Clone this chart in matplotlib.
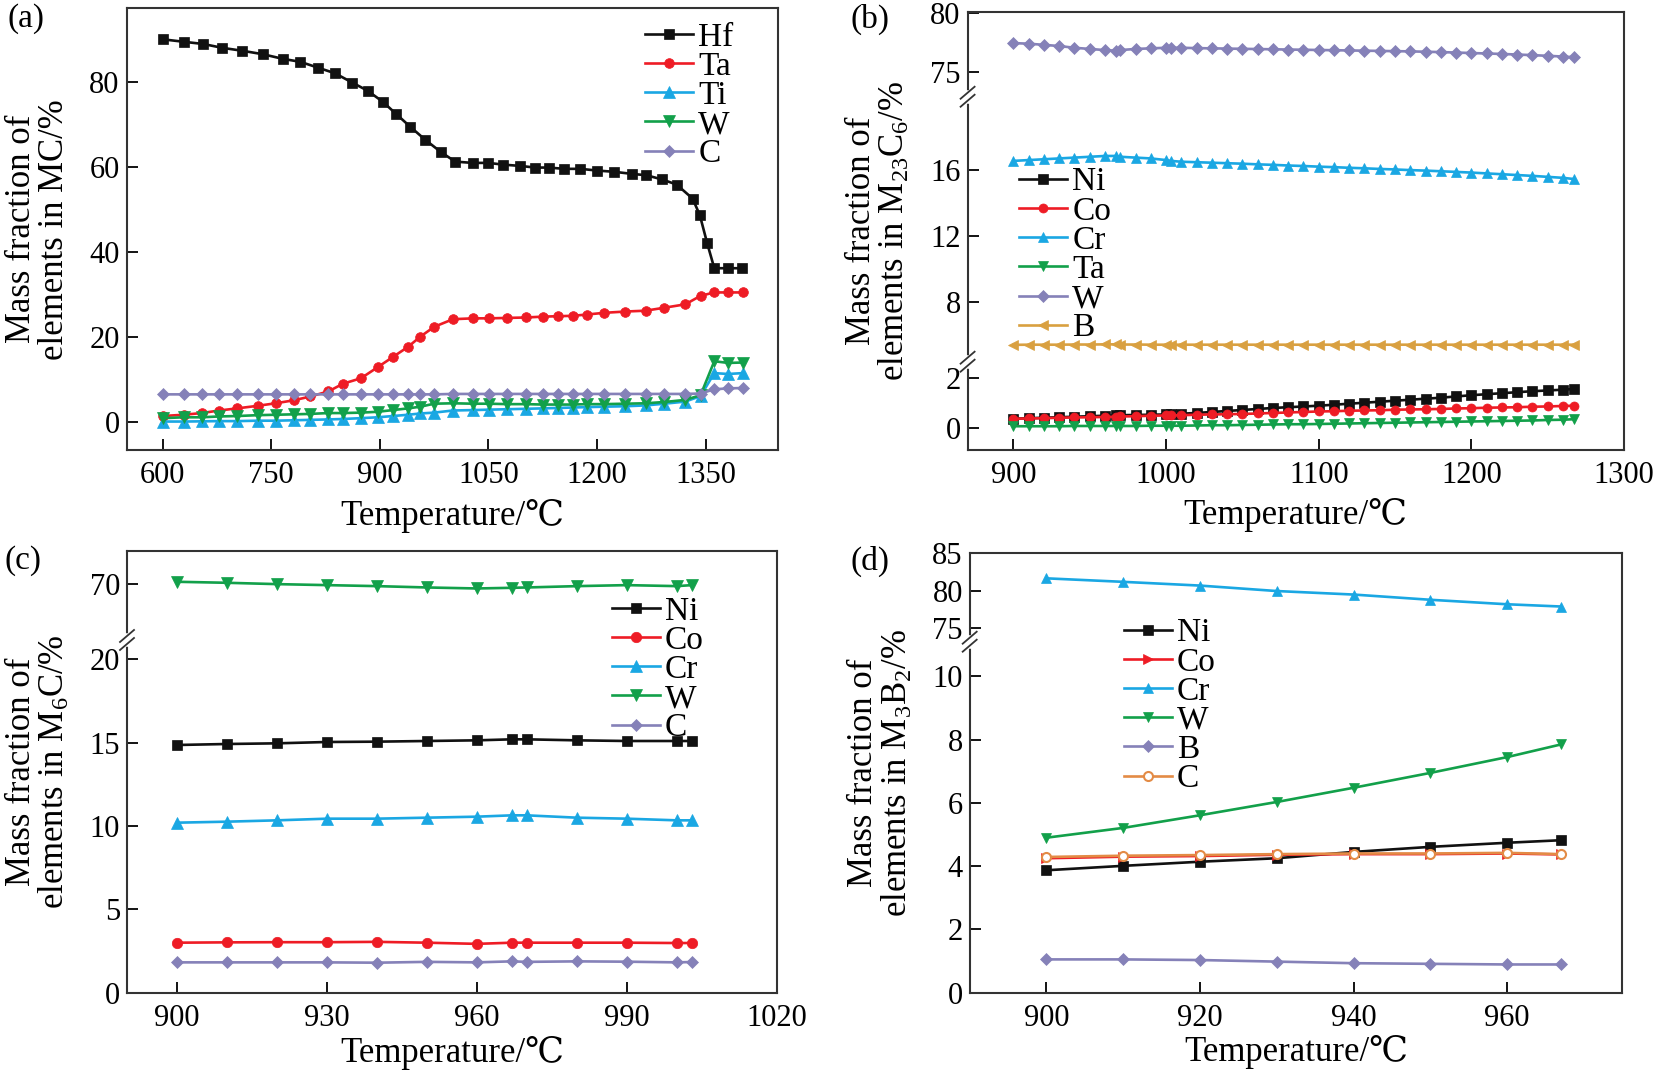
import numpy as np
import matplotlib
matplotlib.use('Agg')
import matplotlib.pyplot as plt

plt.rcParams['font.family'] = ['Liberation Serif', 'DejaVu Serif', 'DejaVu Sans']
plt.rcParams['mathtext.default'] = 'regular'

# ---- (a) MC ----
hf_temp = [600, 630, 656, 682, 710, 738, 766, 790, 815, 838, 862, 883, 904, 922, 942, 963, 984, 1004,
           1028, 1050, 1070, 1093, 1115, 1133, 1155, 1177, 1200, 1224, 1249, 1268, 1290, 1310, 1332,
           1342, 1352, 1362, 1381, 1400]
hf_a = [90.0, 89.4, 88.9, 88.0, 87.3, 86.5, 85.4, 84.7, 83.3, 82.0, 79.8, 77.9, 75.3, 72.5, 69.4, 66.3,
        63.5, 61.2, 60.9, 60.9, 60.5, 60.2, 59.8, 59.8, 59.5, 59.5, 59.1, 58.8, 58.3, 58.0, 57.0, 55.8,
        52.5, 48.6, 42.1, 36.1, 36.1, 36.1]
temp_a = [600, 629, 654, 678, 703, 731, 756, 781, 804, 829, 849, 874, 897, 918, 939, 956, 975, 1001,
          1029, 1051, 1076, 1102, 1125, 1146, 1167, 1186, 1210, 1239, 1267, 1293, 1322, 1343, 1362, 1381, 1401]
ta_a = [1.3, 1.6, 2.0, 2.6, 3.1, 3.7, 4.3, 5.0, 5.9, 7.1, 8.9, 10.2, 12.8, 15.2, 17.6, 20.0, 22.3, 24.1,
        24.3, 24.3, 24.4, 24.5, 24.7, 24.8, 24.9, 25.2, 25.6, 25.9, 26.1, 26.8, 27.6, 29.6, 30.4, 30.4, 30.4]
ti_a = [0.0, 0.0, 0.05, 0.1, 0.1, 0.2, 0.2, 0.3, 0.4, 0.5, 0.6, 0.8, 1.0, 1.3, 1.6, 1.9, 2.1, 2.6,
        2.7, 2.8, 2.9, 3.0, 3.1, 3.2, 3.3, 3.4, 3.5, 3.6, 3.8, 4.2, 4.7, 6.0, 11.4, 11.2, 11.4]
w_a = [0.8, 1.0, 1.0, 1.2, 1.3, 1.5, 1.6, 1.7, 1.8, 2.0, 2.0, 2.1, 2.3, 2.7, 3.1, 3.5, 4.2, 4.3,
       4.2, 4.2, 4.1, 4.1, 4.0, 4.0, 4.0, 4.1, 4.1, 4.2, 4.3, 4.6, 5.1, 6.2, 14.2, 13.8, 13.9]
c_a = [6.4, 6.4, 6.4, 6.4, 6.4, 6.4, 6.4, 6.4, 6.4, 6.4, 6.4, 6.4, 6.4, 6.4, 6.4, 6.4, 6.4, 6.5,
       6.5, 6.5, 6.5, 6.5, 6.5, 6.5, 6.5, 6.5, 6.5, 6.5, 6.5, 6.5, 6.5, 6.6, 7.6, 7.8, 7.9]

# ---- (b) M23C6 ----
temp_b = [900, 910, 920, 930, 940, 950, 960, 967, 970, 980, 990, 1000, 1003, 1010, 1020, 1030, 1040,
          1050, 1060, 1070, 1080, 1090, 1100, 1110, 1120, 1130, 1140, 1150, 1160, 1170, 1180, 1190,
          1200, 1210, 1220, 1230, 1240, 1250, 1260, 1267]
ni_b = [0.38, 0.40, 0.42, 0.44, 0.46, 0.48, 0.50, 0.51, 0.52, 0.53, 0.54, 0.55, 0.56, 0.58, 0.61, 0.65,
        0.69, 0.73, 0.77, 0.81, 0.84, 0.87, 0.90, 0.94, 0.98, 1.02, 1.06, 1.10, 1.14, 1.18, 1.22, 1.27,
        1.32, 1.36, 1.40, 1.44, 1.48, 1.51, 1.54, 1.57]
co_b = [0.38, 0.39, 0.40, 0.42, 0.43, 0.44, 0.45, 0.46, 0.47, 0.48, 0.50, 0.51, 0.51, 0.52, 0.54, 0.55,
        0.56, 0.57, 0.59, 0.61, 0.63, 0.65, 0.67, 0.68, 0.70, 0.71, 0.72, 0.74, 0.75, 0.76, 0.77, 0.79,
        0.80, 0.82, 0.83, 0.84, 0.86, 0.87, 0.89, 0.90]
cr_b = [16.55, 16.6, 16.65, 16.7, 16.75, 16.8, 16.85, 16.85, 16.8, 16.75, 16.7, 16.6, 16.55, 16.5,
        16.47, 16.44, 16.41, 16.38, 16.34, 16.31, 16.27, 16.24, 16.20, 16.17, 16.13, 16.10, 16.06, 16.03,
        15.99, 15.96, 15.92, 15.88, 15.84, 15.79, 15.74, 15.69, 15.64, 15.58, 15.52, 15.45]
ta_b = [0.08, 0.08, 0.08, 0.08, 0.09, 0.09, 0.09, 0.09, 0.09, 0.09, 0.10, 0.10, 0.10, 0.10, 0.11, 0.12,
        0.12, 0.13, 0.14, 0.15, 0.16, 0.16, 0.17, 0.18, 0.19, 0.20, 0.21, 0.22, 0.23, 0.24, 0.25, 0.26,
        0.27, 0.28, 0.29, 0.30, 0.31, 0.33, 0.34, 0.36]
w_b = [77.45, 77.4, 77.3, 77.2, 77.05, 76.95, 76.85, 76.8, 76.85, 76.95, 77.0, 77.05, 77.05, 77.05,
       77.02, 77.0, 76.98, 76.96, 76.94, 76.92, 76.9, 76.88, 76.86, 76.84, 76.82, 76.8, 76.78, 76.76,
       76.74, 76.71, 76.68, 76.64, 76.6, 76.56, 76.52, 76.47, 76.42, 76.36, 76.3, 76.24]
b_b = [5.37, 5.38, 5.38, 5.38, 5.39, 5.39, 5.40, 5.40, 5.39, 5.39, 5.38, 5.38, 5.38, 5.38, 5.38, 5.38,
       5.38, 5.38, 5.38, 5.38, 5.38, 5.38, 5.38, 5.38, 5.38, 5.38, 5.38, 5.38, 5.38, 5.38, 5.38, 5.38,
       5.38, 5.38, 5.38, 5.38, 5.38, 5.38, 5.38, 5.38]

# ---- (c) M6C ----
temp_c = [900, 910, 920, 930, 940, 950, 960, 967, 970, 980, 990, 1000, 1003]
ni_c = [14.86, 14.92, 14.96, 15.04, 15.06, 15.1, 15.14, 15.2, 15.2, 15.14, 15.1, 15.1, 15.1]
co_c = [3.0, 3.02, 3.03, 3.03, 3.05, 3.0, 2.93, 3.0, 3.0, 3.0, 3.0, 2.98, 2.98]
cr_c = [10.2, 10.26, 10.34, 10.44, 10.44, 10.5, 10.56, 10.64, 10.64, 10.5, 10.44, 10.34, 10.34]
w_c = [70.14, 70.08, 70.0, 69.94, 69.88, 69.8, 69.74, 69.78, 69.8, 69.88, 69.94, 69.88, 69.94]
c_c = [1.82, 1.82, 1.82, 1.82, 1.8, 1.85, 1.82, 1.88, 1.85, 1.88, 1.86, 1.82, 1.84]

# ---- (d) M3B2 ----
temp_d = [900, 910, 920, 930, 940, 950, 960, 967]
ni_d = [3.87, 4.01, 4.14, 4.25, 4.45, 4.61, 4.74, 4.82]
co_d = [4.25, 4.30, 4.32, 4.36, 4.38, 4.38, 4.40, 4.37]
cr_d = [81.67, 81.2, 80.7, 79.97, 79.5, 78.8, 78.2, 77.9]
w_d = [4.9, 5.21, 5.61, 6.03, 6.48, 6.95, 7.45, 7.85]
b_d = [1.05, 1.05, 1.03, 0.98, 0.93, 0.91, 0.89, 0.89]
c_d = [4.29, 4.33, 4.35, 4.38, 4.4, 4.4, 4.42, 4.38]

BLACK = '#111111'
RED = '#ee1c25'
CYAN = '#1aa7e3'
GREEN = '#12a04a'
PURPLE = '#8581b8'
GOLD = '#d9a040'
ORANGE = '#e38b45'

W_PX, H_PX = 1659, 1073


def _interp(v, xp, fp):
    v = np.asarray(v, dtype=float)
    out = np.interp(v, xp, fp)
    s0 = (fp[1] - fp[0]) / (xp[1] - xp[0])
    s1 = (fp[-1] - fp[-2]) / (xp[-1] - xp[-2])
    out = np.where(v < xp[0], fp[0] + (v - xp[0]) * s0, out)
    out = np.where(v > xp[-1], fp[-1] + (v - xp[-1]) * s1, out)
    return out


def broken_scale(ax, yp, fp):
    # piecewise linear y axis, one box, segments stacked
    yp = np.asarray(yp, float)
    fp = np.asarray(fp, float)
    ax.set_yscale('function', functions=(lambda v: _interp(v, yp, fp),
                                         lambda v: _interp(v, fp, yp)))
    ax.set_ylim(yp[0], yp[-1])


def break_mark(ax, yf):
    pos = ax.get_position()
    wpx, hpx = pos.width * W_PX, pos.height * H_PX
    dx, dy, gap = 7 / wpx, 6 / hpx, 4 / hpx
    ax.plot([0, 0], [yf - gap, yf + gap], color='white', lw=4, transform=ax.transAxes,
            clip_on=False, zorder=6)
    for off in (-gap, gap):
        ax.plot([-dx, dx], [yf + off - dy, yf + off + dy], color='#333333', lw=1.3,
                transform=ax.transAxes, clip_on=False, zorder=7)


def style(ax, xticks, yticks, xlim):
    ax.set_xlim(*xlim)
    ax.set_xticks(xticks)
    ax.set_yticks(yticks)
    ax.set_yticklabels([str(t) for t in yticks])
    ax.tick_params(direction='in', length=8, width=1.3, labelsize=22, top=False, right=False)
    ax.tick_params(axis='x', pad=8)
    ax.tick_params(axis='y', pad=5)
    for s in ax.spines.values():
        s.set_linewidth(1.5)
        s.set_color('#333333')


def line(ax, x, y, color, marker, label, ms=7, mfc=None):
    ax.plot(x, y, color=color, marker=marker, ms=ms, lw=1.9, label=label,
            mfc=mfc if mfc else color, mec=color, mew=1.5 if mfc else 0.5)


def legend(ax, x_px, top_px):
    ax.legend(loc='upper left', bbox_to_anchor=(x_px / W_PX, 1 - top_px / H_PX),
              bbox_transform=fig.transFigure, frameon=False, fontsize=24, handlelength=1.45,
              handletextpad=0.15, labelspacing=-0.04, borderpad=0, borderaxespad=0)


def labels(ax, ylab, xlab_y):
    ax.set_xlabel('Temperature/℃', fontsize=25, va='center')
    ax.xaxis.set_label_coords(0.5, xlab_y)
    ax.set_ylabel(ylab, fontsize=25, va='center', ha='center', linespacing=1.0)
    ax.yaxis.set_label_coords(-0.136, 0.5)


fig = plt.figure(figsize=(16.59, 10.73), dpi=100)

ax_a = fig.add_axes([126.5 / W_PX, 1 - 450 / H_PX, 651.5 / W_PX, 441.7 / H_PX])
ax_b = fig.add_axes([967.6 / W_PX, 1 - 450 / H_PX, 656.4 / W_PX, 438.3 / H_PX])
ax_c = fig.add_axes([127 / W_PX, 1 - 992.7 / H_PX, 649.7 / W_PX, 442 / H_PX])
ax_d = fig.add_axes([969.7 / W_PX, 1 - 992.6 / H_PX, 652.7 / W_PX, 439.9 / H_PX])

# (a)
line(ax_a, hf_temp, hf_a, BLACK, 's', 'Hf')
line(ax_a, temp_a, ta_a, RED, 'o', 'Ta')
line(ax_a, temp_a, ti_a, CYAN, '^', 'Ti', ms=8)
line(ax_a, temp_a, w_a, GREEN, 'v', 'W', ms=8)
line(ax_a, temp_a, c_a, PURPLE, 'D', 'C', ms=6.5)
ax_a.set_ylim(-6.7, 97.3)
style(ax_a, [600, 750, 900, 1050, 1200, 1350], [0, 20, 40, 60, 80], (550, 1450))
labels(ax_a, 'Mass fraction of\nelements in MC/%', -0.149)
legend(ax_a, 645, 22)

# (b)
broken_scale(ax_b, [-0.87, 2.66, 4.35, 20.45, 72.86, 80.14], [0, 0.2015, 0.2016, 0.806, 0.8061, 1])
line(ax_b, temp_b, ni_b, BLACK, 's', 'Ni', ms=6.5)
line(ax_b, temp_b, co_b, RED, 'o', 'Co', ms=6.5)
line(ax_b, temp_b, cr_b, CYAN, '^', 'Cr', ms=7)
line(ax_b, temp_b, ta_b, GREEN, 'v', 'Ta', ms=7)
line(ax_b, temp_b, w_b, PURPLE, 'D', 'W', ms=6)
line(ax_b, temp_b, b_b, GOLD, '<', 'B', ms=7)
style(ax_b, [900, 1000, 1100, 1200, 1300], [0, 2, 8, 12, 16, 75, 80], (870, 1300))
labels(ax_b, 'Mass fraction of\nelements in M$_{23}$C$_6$/%', -0.149)
legend(ax_b, 1019, 167)
break_mark(ax_b, 0.2015)
break_mark(ax_b, 0.806)

# (c)
broken_scale(ax_c, [0, 21.16, 66.66, 72.0], [0, 0.798, 0.7981, 1])
line(ax_c, temp_c, ni_c, BLACK, 's', 'Ni', ms=7.5)
line(ax_c, temp_c, co_c, RED, 'o', 'Co', ms=7.5)
line(ax_c, temp_c, cr_c, CYAN, '^', 'Cr', ms=8)
line(ax_c, temp_c, w_c, GREEN, 'v', 'W', ms=8)
line(ax_c, temp_c, c_c, PURPLE, 'D', 'C', ms=6.5)
style(ax_c, [900, 930, 960, 990, 1020], [0, 5, 10, 15, 20, 70], (890, 1020))
labels(ax_c, 'Mass fraction of\nelements in M$_6$C/%', -0.136)
legend(ax_c, 611.5, 596)
break_mark(ax_c, 0.798)

# (d)
broken_scale(ax_d, [0, 11.1, 73.2, 85.1], [0, 0.7977, 0.7978, 1])
line(ax_d, temp_d, ni_d, BLACK, 's', 'Ni', ms=6.5)
line(ax_d, temp_d, co_d, RED, '>', 'Co', ms=7)
line(ax_d, temp_d, cr_d, CYAN, '^', 'Cr', ms=7)
line(ax_d, temp_d, w_d, GREEN, 'v', 'W', ms=7)
line(ax_d, temp_d, b_d, PURPLE, 'D', 'B', ms=6)
line(ax_d, temp_d, c_d, ORANGE, 'o', 'C', ms=6.5, mfc='white')
style(ax_d, [900, 920, 940, 960], [0, 2, 4, 6, 8, 10, 75, 80, 85], (890, 975))
labels(ax_d, 'Mass fraction of\nelements in M$_3$B$_2$/%', -0.136)
legend(ax_d, 1123.6, 618)
break_mark(ax_d, 0.7977)

for txt, x, y in [('(a)', 26.5, 19), ('(b)', 870, 19), ('(c)', 23, 561), ('(d)', 870, 561)]:
    fig.text(x / W_PX, 1 - y / H_PX, txt, fontsize=24, ha='center', va='center')

fig.savefig('out.png', dpi=100)
